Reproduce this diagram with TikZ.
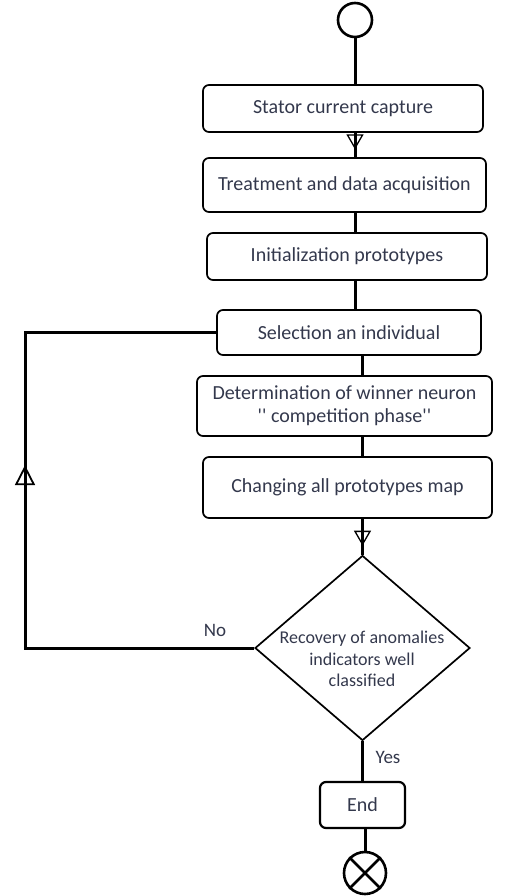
\documentclass[tikz,border=0pt]{standalone}
\usepackage{fontspec}
\setmainfont{Carlito}
\usetikzlibrary{shapes.geometric, arrows.meta, decorations.markings}
\definecolor{txt}{rgb}{0.2,0.22,0.3}
\tikzstyle{stepbox}=[draw,line width=1.7pt,rounded corners=6pt,inner sep=0pt,align=center,text=txt,font=\fontsize{20}{23}\selectfont]
\tikzstyle{flow}=[line width=3pt]
\tikzstyle{midtip}=[postaction={decorate}]
\tikzstyle{lbl}=[text=txt,font=\fontsize{19}{22}\selectfont]

\begin{document}
\begin{tikzpicture}[x=1pt,y=-1pt]
    \useasboundingbox (0,0) rectangle (511,896);
    \node[circle,draw,line width=2.6pt,minimum size=34pt,inner sep=0pt] (start) at (355,20) {};
    \node[stepbox,minimum width=280pt,minimum height=47pt] (cap) at (343,108.5) {Stator current capture};
    \node[stepbox,minimum width=283pt,minimum height=54pt] (treat) at (344.5,185) {Treatment and data acquisition};
    \node[stepbox,minimum width=280pt,minimum height=47pt] (init) at (347,256.5) {Initialization prototypes};
    \node[stepbox,minimum width=264pt,minimum height=45pt] (sel) at (349,332.5) {Selection an individual};
    \node[stepbox,minimum width=295pt,minimum height=60pt] (det) at (344.5,406) {Determination of winner neuron\\\textquotesingle\textquotesingle{} competition phase\textquotesingle\textquotesingle};
    \node[stepbox,minimum width=289pt,minimum height=61pt] (chg) at (347.5,487.5) {Changing all prototypes map};
    \node[diamond,draw,line width=1.7pt,minimum width=215pt,minimum height=185pt,inner sep=0pt] (dec) at (362.5,648) {};
    \node[lbl,align=center,font=\fontsize{18}{21.5}\selectfont] (dectext) at (362,659) {Recovery of anomalies\\indicators well\\classified};
    \node[stepbox,line width=2.2pt,minimum width=85pt,minimum height=46pt] (end) at (362.5,805) {End};
    \node[circle,draw,line width=2.6pt,minimum size=42pt,inner sep=0pt] (stop) at (365,873) {};
    \draw[line width=2.6pt] (stop.north west) -- (stop.south east) (stop.north east) -- (stop.south west);
    % main line
    \draw[flow] (start.south) -- (start.south |- cap.north);
    \draw[flow,midtip,decoration={markings,mark=at position 0.68 with {\arrow[line width=1.3pt]{Triangle[open,length=15pt,width=17pt]}}}] (cap.south -| start) -- (treat.north -| start);
    \draw[flow] (treat.south -| start) -- (init.north -| start);
    \draw[flow] (init.south -| start) -- (sel.north -| start);
    \draw[flow] (sel.south -| dec) -- (det.north -| dec);
    \draw[flow] (det.south -| dec) -- (chg.north -| dec);
    \draw[flow,midtip,decoration={markings,mark=at position 0.75 with {\arrow[line width=1.3pt]{Triangle[open,length=15pt,width=17pt]}}}] (chg.south -| dec) -- (dec.north);
    \draw[flow] (dec.south) -- (end.north -| dec);
    \draw[flow] (end.south -| stop) -- (stop.north);
    % loop back
    \coordinate (back) at (25,648);
    \draw[flow,midtip,decoration={markings,mark=at position 0.56 with {\arrow[line width=1.8pt]{Triangle[open,length=20pt,width=20pt]}}}] (dec.west) -- (back) |- (sel.west);
    \node[lbl] (no) at (215,630) {No};
    \node[lbl] (yes) at (388,757) {Yes};
\end{tikzpicture}
\end{document}
